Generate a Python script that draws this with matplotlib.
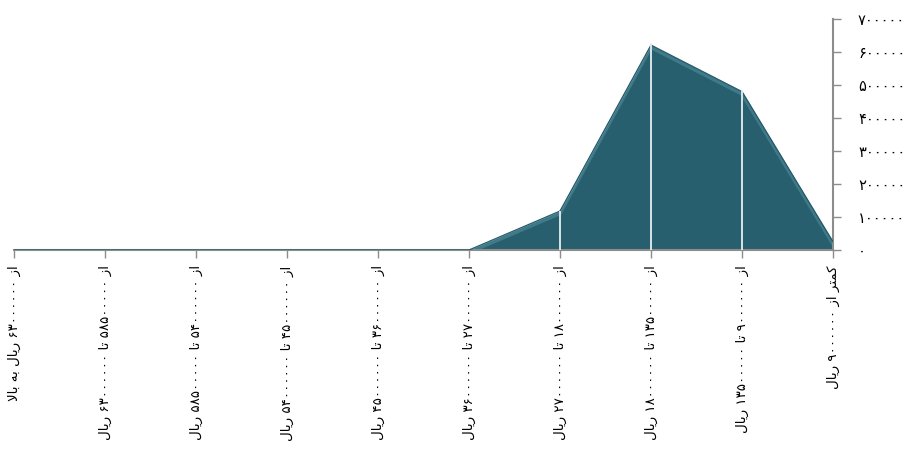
import matplotlib
matplotlib.use("Agg")
import matplotlib.pyplot as plt
from matplotlib import transforms

# ---------------- data ----------------
categories = [
    "از ۶۳۰۰۰۰۰۰ ریال به بالا",
    "از ۵۸۵۰۰۰۰۰ تا ۶۳۰۰۰۰۰۰ ریال",
    "از ۵۴۰۰۰۰۰۰ تا ۵۸۵۰۰۰۰۰ ریال",
    "از ۴۵۰۰۰۰۰۰ تا ۵۴۰۰۰۰۰۰ ریال",
    "از ۳۶۰۰۰۰۰۰ تا ۴۵۰۰۰۰۰۰ ریال",
    "از ۲۷۰۰۰۰۰۰ تا ۳۶۰۰۰۰۰۰ ریال",
    "از ۱۸۰۰۰۰۰۰ تا ۲۷۰۰۰۰۰۰ ریال",
    "از ۱۳۵۰۰۰۰۰ تا ۱۸۰۰۰۰۰۰ ریال",
    "از ۹۰۰۰۰۰۰ تا ۱۳۵۰۰۰۰۰ ریال",
    "کمتر از ۹۰۰۰۰۰۰ ریال",
]
values = [0, 0, 0, 0, 0, 0, 118000, 621000, 480000, 25000]
y_ticks = [0, 100000, 200000, 300000, 400000, 500000, 600000, 700000]
y_tick_labels = ["۰", "۱۰۰۰۰۰", "۲۰۰۰۰۰", "۳۰۰۰۰۰", "۴۰۰۰۰۰", "۵۰۰۰۰۰", "۶۰۰۰۰۰", "۷۰۰۰۰۰"]

# ------------- minimal Persian shaping (for matplotlib, which has no bidi) -------------
FORMS = {  # isolated, final, initial, medial
    "ا": ("\uFE8D", "\uFE8E", None, None),
    "ز": ("\uFEAF", "\uFEB0", None, None),
    "ر": ("\uFEAD", "\uFEAE", None, None),
    "ت": ("\uFE95", "\uFE96", "\uFE97", "\uFE98"),
    "ی": ("\uFBFC", "\uFBFD", "\uFEF3", "\uFEF4"),
    "ل": ("\uFEDD", "\uFEDE", "\uFEDF", "\uFEE0"),
    "ب": ("\uFE8F", "\uFE90", "\uFE91", "\uFE92"),
    "ه": ("\uFEE9", "\uFEEA", "\uFEEB", "\uFEEC"),
    "ک": ("\uFB8E", "\uFB8F", "\uFEDB", "\uFEDC"),
    "م": ("\uFEE1", "\uFEE2", "\uFEE3", "\uFEE4"),
}


def dual(c):
    return FORMS[c][2] is not None


def shape_word(w):
    out = []
    i = 0
    n = len(w)
    while i < n:
        c = w[i]
        prev_joins = i > 0 and dual(w[i - 1])
        if c == "ل" and i + 1 < n and w[i + 1] == "ا":
            out.append("\uFEFC" if prev_joins else "\uFEFB")
            i += 2
            continue
        next_exists = i + 1 < n
        iso, fin, ini, med = FORMS[c]
        if dual(c) and next_exists:
            out.append(med if prev_joins else ini)
        else:
            out.append(fin if prev_joins else iso)
        i += 1
    return "".join(reversed(out))


def visual(s):
    toks = s.split(" ")
    res = []
    for t in reversed(toks):
        if t and t[0] in FORMS:
            res.append(shape_word(t))
        else:
            res.append(t)
    return " ".join(res)


# ---------------- plot ----------------
W, H = 907, 451
fig = plt.figure(figsize=(W / 100, H / 100), dpi=100)
ax = fig.add_axes([14 / W, 1 - 250 / H, (833 - 14) / W, (250 - 19) / H])

x = list(range(len(categories)))
fill_color = "#275f6e"
ax.fill_between(x, values, 0, color=fill_color, linewidth=0, zorder=2)
hl = transforms.offset_copy(ax.transData, fig=fig, x=0, y=-2.5, units="dots")
ax.plot(x, values, color="#5f9cab", lw=2.4, alpha=0.45, transform=hl, zorder=3,
        solid_capstyle="butt")
ax.plot(x, values, color="#24596a", lw=0.9, zorder=3)

for xi, v in zip(x, values):
    if 0 < xi < len(x) - 1 and v > 0:
        ax.vlines(xi, 0, v * 1.01, color="#e6eef1", lw=1.3, zorder=4)

ax.set_xlim(0, len(categories) - 1)
ax.set_ylim(0, 700000)

ax.set_xticks(x)
ax.set_xticklabels([visual(c) for c in categories], rotation=90, va="top",
                   ha="center", fontsize=9.6, family=["DejaVu Sans"])
ax.yaxis.tick_right()
ax.set_yticks(y_ticks)
ax.set_yticklabels(y_tick_labels, fontsize=10.5, family=["DejaVu Sans"])

for s in ["top", "left"]:
    ax.spines[s].set_visible(False)
for s in ["bottom", "right"]:
    ax.spines[s].set_color("#8c8c8c")
    ax.spines[s].set_linewidth(1.5)
ax.tick_params(axis="x", colors="#8c8c8c", length=6, width=1, pad=5, labelcolor="black")
ax.tick_params(axis="y", colors="#8c8c8c", length=6, width=1, pad=12, labelcolor="black")

fig.savefig("out.png", dpi=100)
